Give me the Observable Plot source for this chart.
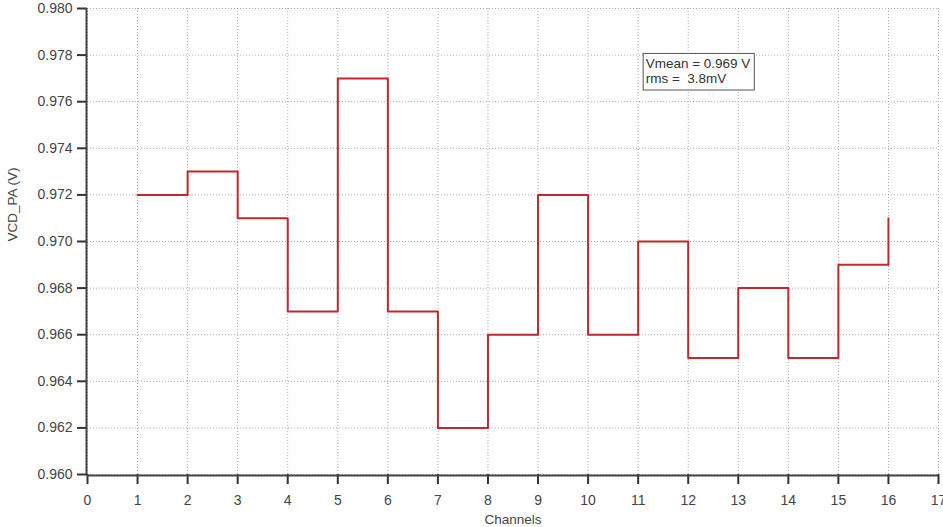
<!DOCTYPE html>
<html>
<head>
<meta charset="utf-8">
<script src="https://cdn.jsdelivr.net/npm/d3@7"></script>
<script src="https://cdn.jsdelivr.net/npm/@observablehq/plot@0.6"></script>
<style>
  html, body { margin: 0; padding: 0; background: #fff; }
  #chart svg { display: block; }
</style>
</head>
<body>
<div id="chart"></div>
<script>
const channels = [1, 2, 3, 4, 5, 6, 7, 8, 9, 10, 11, 12, 13, 14, 15, 16];
const vcdValues = [0.972, 0.973, 0.971, 0.967, 0.977, 0.967, 0.962, 0.966, 0.972, 0.966, 0.970, 0.965, 0.968, 0.965, 0.969, 0.971];
const xTicks = [0, 1, 2, 3, 4, 5, 6, 7, 8, 9, 10, 11, 12, 13, 14, 15, 16, 17];
const yTicks = [0.960, 0.962, 0.964, 0.966, 0.968, 0.970, 0.972, 0.974, 0.976, 0.978, 0.980];
const annotationLines = ["Vmean = 0.969 V", "rms =  3.8mV"];

const data = channels.map((c, i) => ({channel: c, value: vcdValues[i]}));
const font = "'Liberation Sans', Arial, sans-serif";

const chart = Plot.plot({
  width: 943,
  height: 527,
  marginLeft: 87,
  marginRight: 5,
  marginTop: 8,
  marginBottom: 53,
  style: {fontFamily: font, fontSize: "14px", color: "#333", background: "#fff"},
  x: {domain: [0, 17], ticks: xTicks, label: null},
  y: {domain: [0.960, 0.980], ticks: yTicks, label: null},
  marks: [
    Plot.gridX(xTicks, {stroke: "#aaa", strokeOpacity: 1, strokeDasharray: "1,2"}),
    Plot.gridY(yTicks, {stroke: "#aaa", strokeOpacity: 1, strokeDasharray: "1,2"}),
    Plot.axisX(xTicks, {tickSize: 10, tickPadding: 11, tickFormat: d3.format("d"), stroke: "#333", strokeWidth: 2, fill: "#444", fontSize: 14, label: null}),
    Plot.axisY(yTicks, {tickSize: 10, tickPadding: 5, tickFormat: d3.format(".3f"), stroke: "#333", strokeWidth: 2, fill: "#444", fontSize: 14, label: null}),
    Plot.ruleX([0], {stroke: "#444", strokeWidth: 2, dx: -1}),
    Plot.ruleY([0.960], {stroke: "#444", strokeWidth: 2, dy: 1}),
    Plot.line(data, {x: "channel", y: "value", curve: "step-after", stroke: "#c1272d", strokeWidth: 2}),
    Plot.rect([{x1: 11.11, x2: 13.33, y1: 0.97648, y2: 0.97805}], {x1: "x1", x2: "x2", y1: "y1", y2: "y2", fill: "white", stroke: "#555", strokeWidth: 1}),
    Plot.text([annotationLines.join("\n")], {x: 11.11, y: 0.97805, text: d => d, textAnchor: "start", lineAnchor: "top", lineHeight: 1.12, fontSize: 13.5, fill: "#333", dx: 2, dy: 3}),
    Plot.text(["VCD_PA (V)"], {frameAnchor: "left", text: d => d, rotate: -90, dx: -75, fontSize: 13.5, fill: "#444"}),
    Plot.text(["Channels"], {frameAnchor: "bottom", text: d => d, dy: 49, fontSize: 13.5, fill: "#444"})
  ]
});
document.getElementById("chart").appendChild(chart);
</script>
</body>
</html>
